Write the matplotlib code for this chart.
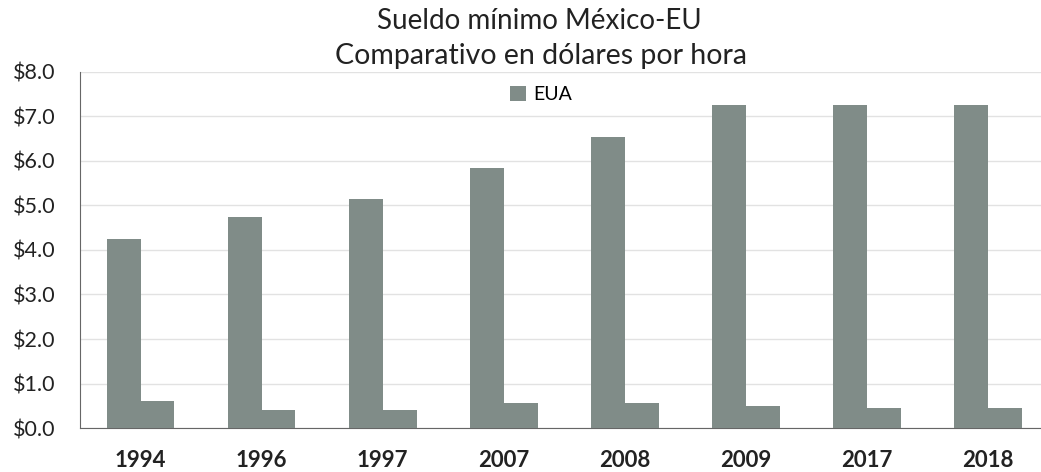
import matplotlib
matplotlib.use("Agg")
import matplotlib.pyplot as plt
import numpy as np

years = ["1994", "1996", "1997", "2007", "2008", "2009", "2017", "2018"]
eua = [4.25, 4.75, 5.15, 5.85, 6.55, 7.25, 7.25, 7.25]
mexico = [0.61, 0.41, 0.41, 0.56, 0.57, 0.49, 0.45, 0.46]
yticks = [0, 1, 2, 3, 4, 5, 6, 7, 8]

plt.rcParams['font.family'] = ['Lato', 'DejaVu Sans']

bar_color = "#808c88"

fig = plt.figure(figsize=(10.41, 4.72), dpi=100)
ax = fig.add_axes([0.0769, 0.0932, 0.9231, 0.7543])

x = np.arange(len(years))
w = 0.28
ax.bar(x - w / 2, eua, width=w, color=bar_color, label="EUA", zorder=3)
ax.bar(x + w / 2, mexico, width=w, color=bar_color, zorder=3)

ax.set_xlim(-0.5, 7.44)
ax.set_ylim(0, 8)
ax.set_yticks(yticks)
ax.set_yticklabels(["$%.1f" % v for v in yticks], fontsize=15.5)
ax.set_xticks(x)
ax.set_xticklabels(years, fontsize=16, fontweight="bold")
ax.tick_params(axis="both", length=0, colors="#222222")
ax.tick_params(axis="y", pad=18)
ax.tick_params(axis="x", pad=16)

ax.grid(axis="y", color="#e2e2e2", linewidth=1, zorder=0)
for side in ["top", "right"]:
    ax.spines[side].set_visible(False)
ax.spines["left"].set_color("#666666")
ax.spines["bottom"].set_color("#666666")

# two-line title, centred a little right of the figure middle
fig.text(0.518, 0.955, "Sueldo mínimo México-EU", ha="center", va="center",
         fontsize=20, color="#222222")
fig.text(0.52, 0.881, "Comparativo en dólares por hora", ha="center", va="center",
         fontsize=20.5, color="#222222")

ax.legend(loc="center", bbox_to_anchor=(0.52, 0.799), frameon=False,
          fontsize=14, handlelength=0.8, handleheight=0.8, handletextpad=0.4,
          bbox_transform=fig.transFigure)

fig.savefig("out.png", dpi=100)
